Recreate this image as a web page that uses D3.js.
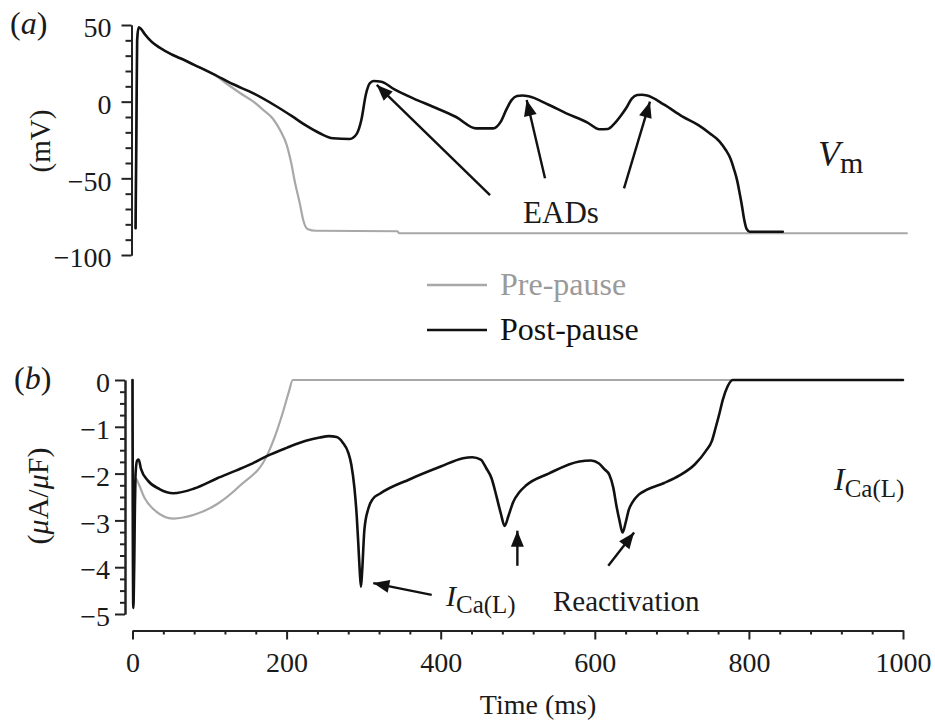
<!DOCTYPE html>
<html>
<head>
<meta charset="utf-8">
<script src="https://cdn.jsdelivr.net/npm/d3@7"></script>
<style>
  html, body { margin: 0; padding: 0; background: #fff; }
  svg { display: block; }
  text { font-family: "Liberation Serif", "Times New Roman", serif; fill: #1a1a1a; }
</style>
</head>
<body>
<svg id="chart" width="935" height="723"></svg>
<script>
// ---------------- DATA ----------------
// Panel (a): membrane potential Vm (mV) vs time (ms)
const timeVmPost = [4, 6, 8, 11, 16, 25, 36, 50, 62, 80, 105, 130, 157, 185, 208, 225, 243, 260, 282, 291, 297, 303, 308, 313, 323, 340, 365, 390, 420, 446, 468, 478, 485, 492, 499, 506, 514, 540, 563, 590, 606, 617, 626, 634, 641, 648, 655, 661, 668, 690, 714, 735, 749, 762, 770, 776, 781, 785, 788, 791, 794, 797, 801, 844];
const vmPost = [-82.6, 40, 48.5, 47.5, 44, 39, 35, 31, 28.3, 24, 18, 11.5, 5.4, -2.5, -9.8, -15.5, -20.6, -23.9, -24.3, -21, -12, 5, 12, 13.5, 13, 8, 2, -3.3, -10, -17.4, -17.4, -13, -5.4, 1, 3.7, 4, 3.5, -2, -7.6, -13.5, -18, -17.8, -14, -9, -4, 2, 4.3, 4.5, 4, -2, -9.8, -15.5, -20.6, -26, -31.5, -37, -44.6, -52, -59.8, -68, -77.2, -83, -84.8, -84.8];

const timeVmPre = [4, 6, 8, 11, 16, 25, 36, 50, 62, 80, 105, 120, 140, 157, 170, 182, 192, 200, 206, 211, 217, 222, 227, 238, 344, 346, 1005];
const vmPre = [-82.6, 40, 48.5, 47.5, 44, 39, 35, 31, 28.3, 24, 18, 12.5, 5.5, 0, -5.5, -11, -19, -28, -40, -53, -66, -78, -83, -84.2, -84.5, -85.8, -85.8];

// Panel (b): L-type Ca current (µA/µF) vs time (ms)
const timeIcaPost = [0, 1, 4, 6, 8, 11, 20, 35, 53, 80, 110, 135, 156, 175, 200, 225, 243, 255, 265, 273, 280, 284, 288, 291, 293, 295, 296.5, 298, 301, 306, 312, 321, 360, 400, 429, 441, 452, 459, 466, 472, 478, 483, 488, 494, 502, 511, 540, 580, 595, 605, 612, 619, 624, 628, 632, 636, 640, 644, 649, 657, 667, 690, 710, 730, 744, 752, 757, 762, 766, 772, 779, 1000];
const icaPost = [0, -4.87, -2.0, -1.72, -1.7, -1.9, -2.15, -2.33, -2.42, -2.32, -2.1, -1.93, -1.78, -1.62, -1.45, -1.3, -1.23, -1.2, -1.22, -1.34, -1.55, -1.81, -2.3, -2.9, -3.48, -4.1, -4.42, -4.1, -3.19, -2.75, -2.54, -2.43, -2.12, -1.85, -1.67, -1.65, -1.7, -1.88, -2.1, -2.46, -2.85, -3.12, -2.9, -2.61, -2.4, -2.25, -2.0, -1.74, -1.72, -1.78, -1.9, -2.03, -2.3, -2.68, -3.0, -3.26, -3.05, -2.78, -2.61, -2.45, -2.35, -2.2, -2.04, -1.8, -1.52, -1.3, -1.01, -0.7, -0.43, -0.15, 0, 0];

const timeIcaPre = [0, 1, 4, 7.5, 15, 30, 53, 80, 110, 140, 175, 185, 195, 203, 208, 1000];
const icaPre = [0, -4.8, -2.1, -2.2, -2.5, -2.8, -2.96, -2.88, -2.65, -2.25, -1.6, -1.2, -0.7, -0.25, 0, 0];

// Ticks
const xTicks = [0, 200, 400, 600, 800, 1000];
const vmTicks = [-100, -50, 0, 50];
const icaTicks = [-5, -4, -3, -2, -1, 0];
const seriesNames = ["Pre-pause", "Post-pause"];

// ---------------- DRAW ----------------
const svg = d3.select("#chart");
svg.append("rect").attr("width", 935).attr("height", 723).attr("fill", "#fff");

const x = d3.scaleLinear().domain([0, 1000]).range([132.5, 903]);
const yTop = d3.scaleLinear().domain([-100, 50]).range([255, 25]);
const yBot = d3.scaleLinear().domain([-5, 0]).range([614, 380]);

const GREY = "#a8a8a8";
const BLACK = "#111";
const AXIS = "#222";

function styleAxis(g, fs) {
  g.select(".domain").attr("stroke", AXIS).attr("stroke-width", 2);
  g.selectAll(".tick line").attr("stroke", AXIS).attr("stroke-width", 2);
  g.selectAll(".tick text").attr("font-size", fs).attr("fill", "#1a1a1a")
    .attr("font-family", '"Liberation Serif", "Times New Roman", serif');
}

// Top y axis
const topMinor = d3.range(-100, 51, 10).filter(v => v % 50 !== 0);
const gTopMinor = svg.append("g").attr("transform", "translate(131.5,0)")
  .call(d3.axisLeft(yTop).tickValues(topMinor).tickSize(6).tickSizeOuter(0).tickFormat(""));
styleAxis(gTopMinor, 28);
const gTop = svg.append("g").attr("transform", "translate(131.5,0)")
  .call(d3.axisLeft(yTop).tickValues(vmTicks).tickSize(10).tickSizeOuter(0).tickPadding(10).tickFormat(d3.format("d")));
styleAxis(gTop, 28);
gTop.selectAll(".tick text").attr("dy", "0.42em");

// Bottom y axis
const botMinor = d3.range(-5, 0.001, 0.25).filter(v => Math.abs(v - Math.round(v)) > 0.01);
const gBotMinor = svg.append("g").attr("transform", "translate(125,0)")
  .call(d3.axisLeft(yBot).tickValues(botMinor).tickSize(5).tickSizeOuter(0).tickFormat(""));
styleAxis(gBotMinor, 28);
const gBot = svg.append("g").attr("transform", "translate(125,0)")
  .call(d3.axisLeft(yBot).tickValues(icaTicks).tickSize(10).tickSizeOuter(0).tickPadding(5).tickFormat(d3.format("d")));
styleAxis(gBot, 28);
gBot.selectAll(".tick text").attr("dy", "0.42em");

// X axis
const xMinor = d3.range(0, 1001, 40).filter(v => v % 200 !== 0);
const gXMinor = svg.append("g").attr("transform", "translate(0,630.5)")
  .call(d3.axisBottom(x).tickValues(xMinor).tickSize(4).tickSizeOuter(0).tickFormat(""));
styleAxis(gXMinor, 28);
const gX = svg.append("g").attr("transform", "translate(0,630.5)")
  .call(d3.axisBottom(x).tickValues(xTicks).tickSize(9).tickSizeOuter(0).tickPadding(13).tickFormat(d3.format("d")));
styleAxis(gX, 28);

// Axis titles
svg.append("text").attr("transform", "translate(50,141) rotate(-90)")
  .attr("text-anchor", "middle").attr("font-size", 29).text("(mV)");
svg.append("text").attr("transform", "translate(48,496) rotate(-90)")
  .attr("text-anchor", "middle").attr("font-size", 30)
  .html('(<tspan font-style="italic">μ</tspan>A/<tspan font-style="italic">μ</tspan>F)');
svg.append("text").attr("x", 538).attr("y", 714).attr("text-anchor", "middle")
  .attr("font-size", 28).text("Time (ms)");

// Panel labels
svg.append("text").attr("x", 10).attr("y", 34).attr("font-size", 32)
  .html('(<tspan font-style="italic">a</tspan>)');
svg.append("text").attr("x", 14).attr("y", 389).attr("font-size", 32)
  .html('(<tspan font-style="italic">b</tspan>)');

// Traces
function trace(ts, vs, yScale, color, w) {
  const pts = ts.map((t, i) => [t, vs[i]]);
  const line = d3.line().x(d => x(d[0])).y(d => yScale(d[1])).curve(d3.curveMonotoneX);
  svg.append("path").datum(pts).attr("d", line).attr("fill", "none")
    .attr("stroke", color).attr("stroke-width", w)
    .attr("stroke-linejoin", "round").attr("stroke-linecap", "round");
}
trace(timeVmPre, vmPre, yTop, GREY, 2.2);
trace(timeVmPost, vmPost, yTop, BLACK, 2.6);
trace(timeIcaPre, icaPre, yBot, GREY, 2.2);
trace(timeIcaPost, icaPost, yBot, BLACK, 2.6);

// Legend
const legend = [{ name: seriesNames[0], color: GREY, tcolor: "#9a9a9a", y: 285 },
                { name: seriesNames[1], color: BLACK, tcolor: "#111", y: 330 }];
legend.forEach(l => {
  svg.append("line").attr("x1", 427).attr("x2", 487).attr("y1", l.y).attr("y2", l.y)
    .attr("stroke", l.color).attr("stroke-width", 2.6);
  svg.append("text").attr("x", 500).attr("y", l.y + 10).attr("font-size", 32)
    .attr("fill", l.tcolor).style("fill", l.tcolor).text(l.name);
});

// Arrows (in data coordinates)
function arrow(x1, y1, x2, y2) {
  svg.append("line").attr("x1", x1).attr("y1", y1).attr("x2", x2).attr("y2", y2)
    .attr("stroke", BLACK).attr("stroke-width", 2.4);
  const ang = Math.atan2(y2 - y1, x2 - x1);
  const L = 16, W = 6.5;
  const bx = x2 - L * Math.cos(ang), by = y2 - L * Math.sin(ang);
  const px = -Math.sin(ang) * W, py = Math.cos(ang) * W;
  svg.append("path")
    .attr("d", `M${x2},${y2}L${bx + px},${by + py}L${bx - px},${by - py}Z`)
    .attr("fill", BLACK);
}
const topArrows = [[464, -60.9, 317, 10.9], [535.4, -50, 511.6, 1.1], [637.9, -56.5, 671.6, 0]];
topArrows.forEach(a => arrow(x(a[0]), yTop(a[1]), x(a[2]), yTop(a[3])));
const botArrows = [[388.3, -4.59, 312.5, -4.34], [499.5, -3.97, 499.5, -3.22], [617.5, -3.97, 651, -3.26]];
botArrows.forEach(a => arrow(x(a[0]), yBot(a[1]), x(a[2]), yBot(a[3])));

// Annotations
svg.append("text").attr("x", 561).attr("y", 223).attr("text-anchor", "middle")
  .attr("font-size", 31).text("EADs");
svg.append("text").attr("x", 818).attr("y", 166).attr("font-size", 36)
  .html('<tspan font-style="italic">V</tspan><tspan font-size="30" dy="7">m</tspan>');
svg.append("text").attr("x", 834).attr("y", 490).attr("font-size", 32)
  .html('<tspan font-style="italic">I</tspan><tspan font-size="25" dy="7">Ca(L)</tspan>');
svg.append("text").attr("x", 446).attr("y", 606).attr("font-size", 30)
  .html('<tspan font-style="italic">I</tspan><tspan font-size="25" dy="7">Ca(L)</tspan>');
svg.append("text").attr("x", 553).attr("y", 611).attr("font-size", 29).text("Reactivation");
</script>
</body>
</html>
